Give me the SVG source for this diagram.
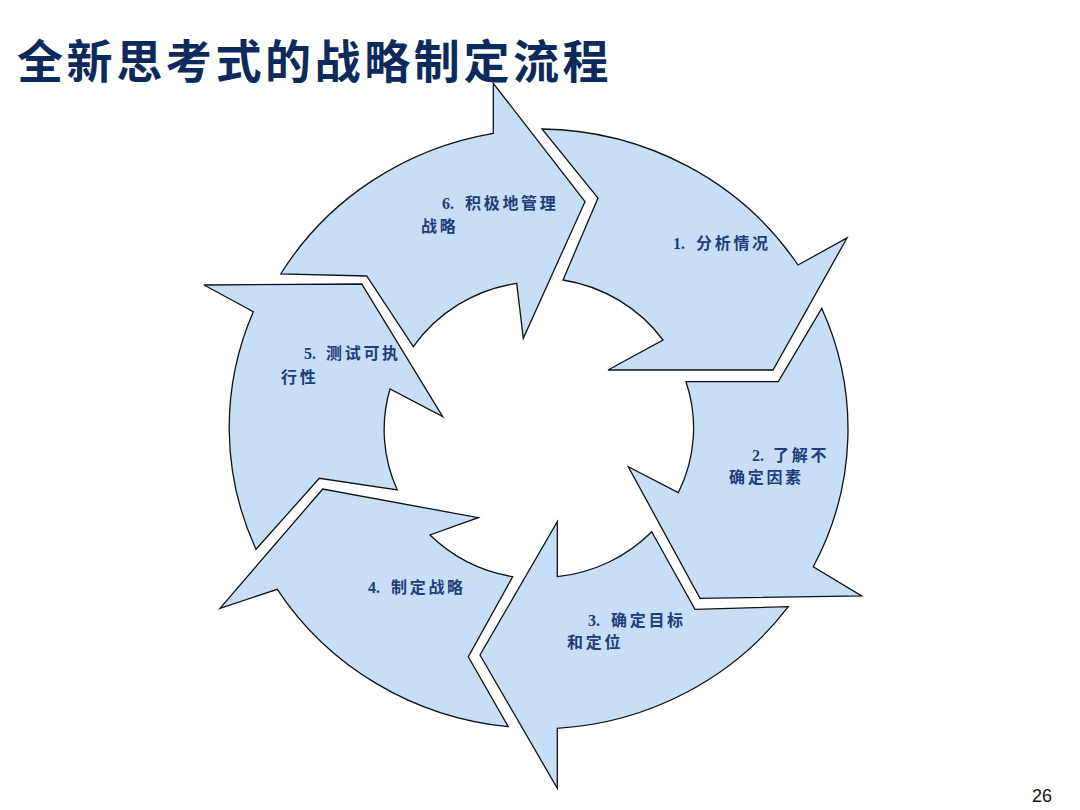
<svg xmlns="http://www.w3.org/2000/svg" width="1080" height="810" viewBox="0 0 1080 810">
<style>
.arrow{fill:#C6DEF6;stroke:#111;stroke-width:1.3;stroke-linejoin:miter}
.lbl{font-family:"Liberation Serif","Noto Sans CJK SC",serif;font-size:16px;font-weight:bold;fill:#1F3D78;letter-spacing:2.7px}
.n{letter-spacing:0}
.title{font-family:"Noto Sans CJK SC",sans-serif;font-size:46px;font-weight:bold;fill:#0C2A5C;letter-spacing:3.6px}
.pg{font-family:"Liberation Sans",Arial,sans-serif;font-size:18px;fill:#111}
</style>
<rect width="1080" height="810" fill="#fff"/>
<text class="title" x="17" y="78">全新思考式的战略制定流程</text>
<g id="step1">
<path class="arrow" d="M542,129 A311 300 0 0 1 798,265 L847,238 L773,370 L608,370 L663,340 A154 149 0 0 0 563,280 L598,198 Z"/>
<text class="lbl" x="673" y="249"><tspan class="n">1.</tspan><tspan x="696">分析情况</tspan></text>
</g>
<g id="step2">
<path class="arrow" d="M821.7,308.3 A311 300 0 0 1 813.3,566.7 L861.7,596 L700,598.3 L628.3,466.7 L678.3,492.7 A154 149 0 0 0 686,381.7 L778.3,381.7 Z"/>
<text class="lbl" x="752" y="461"><tspan class="n">2.</tspan><tspan x="773">了解不</tspan></text>
<text class="lbl" x="729" y="483">确定因素</text>
</g>
<g id="step3">
<path class="arrow" d="M788.3,606.7 A311 300 0 0 1 557.3,728.3 L557.3,788.3 L480,655 L557.3,521.7 L557.3,576.7 A154 149 0 0 0 651.7,531.7 L695,609.3 Z"/>
<text class="lbl" x="588" y="626"><tspan class="n">3.</tspan><tspan x="611">确定目标</tspan></text>
<text class="lbl" x="567" y="648">和定位</text>
</g>
<g id="step4">
<path class="arrow" d="M508.3,726.7 A311 300 0 0 1 277.3,589.3 L220,608.3 L322.7,489 L478.3,517.7 L430,535 A154 149 0 0 0 512.7,576.7 L468.3,656.7 Z"/>
<text class="lbl" x="368" y="593"><tspan class="n">4.</tspan><tspan x="391">制定战略</tspan></text>
</g>
<g id="step5">
<path class="arrow" d="M256,549.3 A311 300 0 0 1 253.3,311.7 L204,285 L361.7,284 L442.7,416.7 L390,389 A154 149 0 0 0 397.3,490 L319.3,478.3 Z"/>
<text class="lbl" x="304" y="359"><tspan class="n">5.</tspan><tspan x="326">测试可执</tspan></text>
<text class="lbl" x="281" y="383">行性</text>
</g>
<g id="step6">
<path class="arrow" d="M280.7,274 A311 300 0 0 1 493.3,133.3 L493.3,83.3 L585,201.7 L523.3,338.3 L516.7,283.3 A154 149 0 0 0 413.3,346.7 L366.7,276 Z"/>
<text class="lbl" x="442" y="209"><tspan class="n">6.</tspan><tspan x="465">积极地管理</tspan></text>
<text class="lbl" x="421" y="232">战略</text>
</g>
<text class="pg" x="1032" y="802">26</text>
</svg>
